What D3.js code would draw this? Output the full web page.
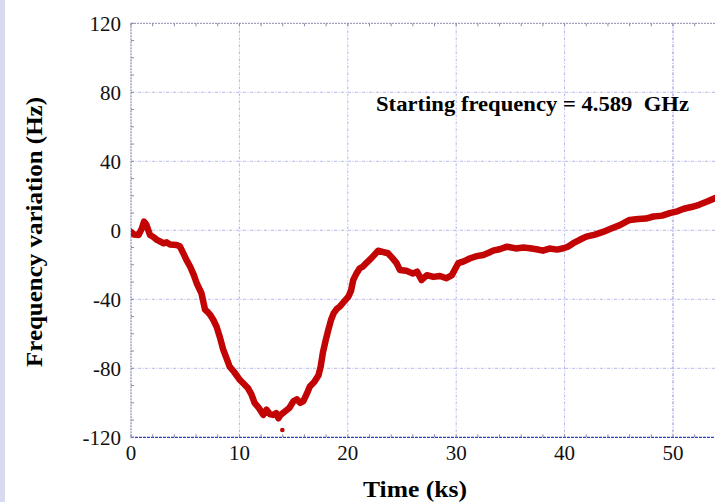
<!DOCTYPE html>
<html>
<head>
<meta charset="utf-8">
<script src="https://cdn.jsdelivr.net/npm/d3@7"></script>
<style>
  body { margin: 0; background: #fff; }
  svg { display: block; font-family: "Liberation Serif", "DejaVu Serif", serif; }
</style>
</head>
<body>
<script>
// Data //////////////////////////////////////////////////////////////////////

const timeKs = [
  0, 0.3, 0.7, 1.0, 1.2, 1.4, 1.75, 2.1, 2.4, 3.0,
  3.3, 3.6, 4.2, 4.5, 4.8, 5.1, 5.45, 5.8, 6.06, 6.5,
  6.83, 7.1, 7.3, 7.6, 7.9, 8.2, 8.5, 8.8, 9.1, 9.5,
  10.05, 10.4, 10.8, 11.1, 11.4, 11.8, 12.2, 12.5, 12.8, 13.1,
  13.4, 13.6, 13.8, 14.2, 14.6, 15.0, 15.3, 15.6, 15.9, 16.2,
  16.5, 16.9, 17.3, 17.5, 17.7, 17.95, 18.2, 18.45, 18.7, 19.0,
  19.3, 19.7, 20.05, 20.3, 20.5, 20.8, 21.1, 21.4, 21.7, 22.2,
  22.8, 23.2, 23.7, 24.1, 24.5, 24.8, 25.4, 26.0, 26.4, 26.8,
  27.3, 27.9, 28.5, 29.1, 29.6, 30.2, 30.7, 31.3, 31.9, 32.5,
  33.0, 33.4, 34.0, 34.7, 35.5, 36.2, 36.8, 37.4, 38.0, 38.6,
  39.3, 39.9, 40.3, 40.8, 41.4, 42.0, 42.8, 43.6, 44.3, 45.1,
  46.0, 46.8, 47.5, 48.2, 49.0, 49.7, 50.4, 51.0, 51.7, 52.4,
  53.1, 53.9, 54.5,
];

const freqHz = [
  -1, -2.5, -2.7, 1, 5, 3.5, -2.7, -4, -5.6, -7.5,
  -7, -8.2, -8.5, -9.3, -13, -17, -21, -26, -30.7, -36.5,
  -46, -47.5, -49, -52, -56, -62, -69, -74, -79, -82,
  -86.8, -89, -91.6, -95, -100, -103, -107, -104, -106.5, -107,
  -106, -109, -107, -105, -103, -99, -98, -100, -99, -95,
  -90.6, -88, -84, -79, -71, -64, -57.8, -52, -48, -45.5,
  -44, -41, -38.5, -35, -28.8, -25, -22, -21, -19, -16,
  -11.8, -12.5, -13.3, -16, -19, -23, -23.5, -25, -24, -28.8,
  -26, -27, -26.5, -27.8, -26, -19, -18, -16.2, -15, -14.3,
  -13, -11.8, -11, -9.5, -10.5, -10, -10.4, -11, -11.8, -10.6,
  -11.2, -10.4, -9.5, -7.5, -5.5, -3.7, -2.5, -0.8, 1, 3,
  6, 6.5, 6.8, 8, 8.5, 10, 11, 12.5, 13.5, 14.8,
  16.5, 18.7, 20,
];

// a lone stray reading below the trough
const outlierTime = [13.96];
const outlierFreq = [-115.8];

const xTicks = [0, 10, 20, 30, 40, 50];
const yTicks = [-120, -80, -40, 0, 40, 80, 120];
const annotation = "Starting frequency = 4.589  GHz";

// Layout ////////////////////////////////////////////////////////////////////

const width = 715;
const height = 502;
const plotLeft = 131;
const plotTop = 23.3;
const plotBottom = 437.3;
const pxPerKs = 10.84;

const svg = d3
  .select("body")
  .append("svg")
  .attr("width", width)
  .attr("height", height);

const x = d3
  .scaleLinear()
  .domain([0, 60])
  .range([plotLeft, plotLeft + 60 * pxPerKs]);

const y = d3.scaleLinear().domain([-120, 120]).range([plotBottom, plotTop]);

// lavender strip along the left edge
svg.append("rect").attr("x", 0).attr("y", 0).attr("width", 5).attr("height", height).attr("fill", "#d7daf0");

drawGrid(svg.append("g"));
drawFrame(svg.append("g"));
drawSeries(svg.append("g"));
drawTickLabels(svg.append("g"));
drawTitles(svg);

// Grid //////////////////////////////////////////////////////////////////////

function drawGrid(root) {
  root
    .selectAll("line.vx")
    .data(xTicks.filter((d) => d > 0))
    .join("line")
    .attr("x1", (d) => x(d))
    .attr("x2", (d) => x(d))
    .attr("y1", plotTop)
    .attr("y2", plotBottom)
    .attr("stroke", (d) => (d === 50 ? "#8a8ad8" : "#b4b8ec"))
    .attr("stroke-width", 1)
    .attr("stroke-dasharray", "3,1.5,1,1.5");

  root
    .selectAll("line.hy")
    .data(yTicks.filter((d) => d > -120 && d < 120))
    .join("line")
    .attr("x1", plotLeft)
    .attr("x2", width)
    .attr("y1", (d) => y(d))
    .attr("y2", (d) => y(d))
    .attr("stroke", "#b4b8ec")
    .attr("stroke-width", 1)
    .attr("stroke-dasharray", "3,1.5,1,1.5");
}

// Frame and minor ticks /////////////////////////////////////////////////////

function drawFrame(root) {
  // top
  root.append("line")
    .attr("x1", plotLeft).attr("x2", width)
    .attr("y1", plotTop).attr("y2", plotTop)
    .attr("stroke", "#8a8aaa").attr("stroke-dasharray", "2,1");
  // left
  root.append("line")
    .attr("x1", plotLeft).attr("x2", plotLeft)
    .attr("y1", plotTop).attr("y2", plotBottom + 1)
    .attr("stroke", "#6f70a8").attr("stroke-dasharray", "2,1");
  // bottom
  root.append("line")
    .attr("x1", plotLeft).attr("x2", width)
    .attr("y1", plotBottom).attr("y2", plotBottom)
    .attr("stroke", "#2f3fc0").attr("stroke-width", 1.2).attr("stroke-dasharray", "3,1");

  const xMinor = d3.range(0, 60.1, 2);
  root.selectAll("line.xb")
    .data(xMinor)
    .join("line")
    .attr("x1", (d) => x(d)).attr("x2", (d) => x(d))
    .attr("y1", plotBottom).attr("y2", plotBottom - 3)
    .attr("stroke", "#8a8aaa");
  root.selectAll("line.xt")
    .data(xMinor)
    .join("line")
    .attr("x1", (d) => x(d)).attr("x2", (d) => x(d))
    .attr("y1", plotTop).attr("y2", plotTop + 3)
    .attr("stroke", "#8a8aaa");

  root.selectAll("line.yl")
    .data(d3.range(-120, 121, 10))
    .join("line")
    .attr("x1", plotLeft).attr("x2", plotLeft + 3)
    .attr("y1", (d) => y(d)).attr("y2", (d) => y(d))
    .attr("stroke", "#8a8aaa");
}

// Series ////////////////////////////////////////////////////////////////////

function drawSeries(root) {
  root.append("clipPath").attr("id", "plotClip")
    .append("rect")
    .attr("x", plotLeft).attr("y", plotTop)
    .attr("width", width - plotLeft).attr("height", plotBottom - plotTop);

  const points = timeKs.map((t, i) => [t, freqHz[i]]);
  const line = d3.line().x((d) => x(d[0])).y((d) => y(d[1]));

  const g = root.append("g").attr("clip-path", "url(#plotClip)");
  g.append("path")
    .attr("d", line(points))
    .attr("fill", "none")
    .attr("stroke", "#c20404")
    .attr("stroke-width", 6.5)
    .attr("stroke-linejoin", "round")
    .attr("stroke-linecap", "round");

  g.selectAll("circle")
    .data(outlierTime.map((t, i) => [t, outlierFreq[i]]))
    .join("circle")
    .attr("cx", (d) => x(d[0]))
    .attr("cy", (d) => y(d[1]))
    .attr("r", 2.3)
    .attr("fill", "#c20404");
}

// Labels ////////////////////////////////////////////////////////////////////

function drawTickLabels(root) {
  root.selectAll("text.xl")
    .data(xTicks)
    .join("text")
    .attr("x", (d) => x(d))
    .attr("y", 460)
    .attr("text-anchor", "middle")
    .attr("font-size", 21)
    .attr("fill", "#111")
    .text((d) => d);

  root.selectAll("text.yl")
    .data(yTicks)
    .join("text")
    .attr("x", 121)
    .attr("y", (d) => y(d))
    .attr("dy", "0.35em")
    .attr("text-anchor", "end")
    .attr("font-size", 21)
    .attr("fill", "#111")
    .text((d) => d);
}

function drawTitles(root) {
  root.append("text")
    .text("Time (ks)")
    .attr("x", 415)
    .attr("y", 497)
    .attr("text-anchor", "middle")
    .attr("font-size", 23)
    .attr("font-weight", "bold")
    .attr("lengthAdjust", "spacingAndGlyphs")
    .attr("textLength", 104);

  root.append("text")
    .text("Frequency variation (Hz)")
    .attr("transform", "translate(42, 232) rotate(-90)")
    .attr("text-anchor", "middle")
    .attr("font-size", 23)
    .attr("font-weight", "bold")
    .attr("lengthAdjust", "spacingAndGlyphs")
    .attr("textLength", 270);

  root.append("text")
    .text(annotation)
    .attr("x", 376)
    .attr("y", 111)
    .attr("font-size", 21)
    .attr("font-weight", "bold")
    .attr("xml:space", "preserve")
    .style("white-space", "pre")
    .attr("lengthAdjust", "spacingAndGlyphs")
    .attr("textLength", 313);
}
</script>
</body>
</html>
